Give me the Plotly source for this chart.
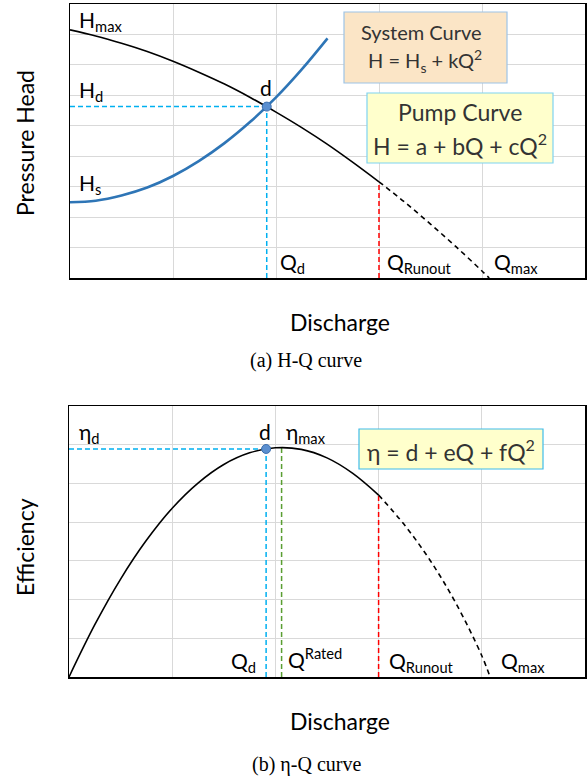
import plotly.graph_objects as go

# ---------------- data ----------------
# (a) H-Q
Q_pump_solid = [0, 0.25, 0.5, 0.75, 1.0, 1.25, 1.5, 1.75, 2.0, 2.25, 2.5, 2.75, 3.0]
H_pump_solid = [8.15, 7.95, 7.71, 7.44, 7.12, 6.76, 6.37, 5.93, 5.45, 4.94, 4.39, 3.79, 3.16]
Q_pump_dash = [3.0, 3.25, 3.5, 3.75, 4.0, 4.07]
H_pump_dash = [3.16, 2.49, 1.77, 1.02, 0.23, 0.0]
Q_sys = [0, 0.25, 0.5, 0.75, 1.0, 1.25, 1.5, 1.75, 2.0, 2.25, 2.5]
H_sys = [2.49, 2.54, 2.71, 2.97, 3.35, 3.84, 4.43, 5.13, 5.93, 6.85, 7.87]

# (b) eta-Q
Q_eta_solid = [0, 0.25, 0.5, 0.75, 1.0, 1.25, 1.5, 1.75, 2.0, 2.25, 2.5, 2.75, 3.0]
E_eta_solid = [0.0, 1.35, 2.53, 3.53, 4.36, 5.01, 5.49, 5.79, 5.92, 5.88, 5.66, 5.26, 4.70]
Q_eta_dash = [3.0, 3.25, 3.5, 3.75, 4.0, 4.08]
E_eta_dash = [4.70, 3.93, 3.01, 1.90, 0.55, 0.0]

# key points
Q_d = 1.91
H_d = 5.63
eta_d = 5.89
Q_rated = 2.06
eta_max = 5.92
Q_runout = 3.0
H_runout = 3.16
eta_runout = 4.70

# axis ranges
Q_range = [0, 5]
H_range = [0, 9]
E_range = [0, 7]

W, H = 587, 778
def px(x):
    return x / W
def py(y):
    return 1 - y / H

LABEL_FONT = "Lato, 'Open Sans', sans-serif"
CYAN = "#00b0f0"
RED = "#ff0000"
GREEN = "#5a9e32"
BLUE = "#2e75b6"
GRID = "#d9d9d9"

fig = go.Figure()

def line(x, y, xa, ya, color, width, dash="solid", shape="linear"):
    fig.add_trace(go.Scatter(x=x, y=y, xaxis=xa, yaxis=ya, mode="lines",
                             line=dict(color=color, width=width, dash=dash, shape=shape),
                             hoverinfo="skip", showlegend=False))

# ---- (a) reference lines
line([0, Q_d], [H_d, H_d], "x", "y", CYAN, 1.5, "5px,3px")
line([Q_d, Q_d], [0, H_d], "x", "y", CYAN, 1.5, "5px,3px")
line([Q_runout, Q_runout], [0, H_runout], "x", "y", RED, 1.5, "5px,3px")
# curves
line(Q_pump_solid, H_pump_solid, "x", "y", "black", 1.6, "solid", "spline")
line(Q_pump_dash, H_pump_dash, "x", "y", "black", 1.6, "5px,4px", "spline")
line(Q_sys, H_sys, "x", "y", BLUE, 2.6, "solid", "spline")
fig.add_trace(go.Scatter(x=[Q_d], y=[H_d], xaxis="x", yaxis="y", mode="markers",
                         marker=dict(size=9, color="#5b8fd0", line=dict(color="#3e6fae", width=1)),
                         hoverinfo="skip", showlegend=False))

# ---- (b) reference lines
line([0, Q_d], [eta_d, eta_d], "x2", "y2", CYAN, 1.5, "5px,3px")
line([Q_d, Q_d], [0, eta_d], "x2", "y2", CYAN, 1.5, "5px,3px")
line([Q_rated, Q_rated], [0, eta_max], "x2", "y2", GREEN, 1.5, "5px,3px")
line([Q_runout, Q_runout], [0, eta_runout], "x2", "y2", RED, 1.5, "5px,3px")
line(Q_eta_solid, E_eta_solid, "x2", "y2", "black", 1.6, "solid", "spline")
line(Q_eta_dash, E_eta_dash, "x2", "y2", "black", 1.6, "5px,4px", "spline")
fig.add_trace(go.Scatter(x=[Q_d], y=[eta_d], xaxis="x2", yaxis="y2", mode="markers",
                         marker=dict(size=9, color="#5b8fd0", line=dict(color="#3e6fae", width=1)),
                         hoverinfo="skip", showlegend=False))

axis_common = dict(showline=True, mirror=True, linecolor="black", linewidth=1.5,
                   showgrid=True, gridcolor=GRID, gridwidth=1, dtick=1, tick0=0,
                   showticklabels=False, ticks="", zeroline=False, fixedrange=True)

fig.update_layout(
    width=W, height=H, autosize=False,
    margin=dict(l=0, r=0, t=0, b=0),
    paper_bgcolor="white", plot_bgcolor="white", showlegend=False,
    xaxis=dict(domain=[px(70), px(585)], range=Q_range, anchor="y", **axis_common),
    yaxis=dict(domain=[py(278), py(4)], range=H_range, anchor="x", **axis_common),
    xaxis2=dict(domain=[px(69), px(585)], range=Q_range, anchor="y2", **axis_common),
    yaxis2=dict(domain=[py(677), py(406)], range=E_range, anchor="x2", **axis_common),
)

ann = []
def label(text, x, y, xref, yref, xanchor="left", yanchor="middle", size=21, color="black", font=LABEL_FONT):
    ann.append(dict(text=text, x=x, y=y, xref=xref, yref=yref, xanchor=xanchor, yanchor=yanchor,
                    showarrow=False, font=dict(family=font, size=size, color=color)))

# (a) labels
label("H<sub>max</sub>", 0.07, 8.45, "x", "y")
label("H<sub>d</sub>", 0.07, 6.15, "x", "y")
label("H<sub>s</sub>", 0.07, 3.1, "x", "y")
label("d", 1.9, 6.25, "x", "y", xanchor="center")
label("Q<sub>d</sub>", 2.02, 0.5, "x", "y")
label("Q<sub>Runout</sub>", 3.06, 0.5, "x", "y")
label("Q<sub>max</sub>", 4.1, 0.5, "x", "y")

# (b) labels
label("η<sub>d</sub>", 0.08, 6.3, "x2", "y2")
label("d", 1.9, 6.35, "x2", "y2", xanchor="center")
label("η<sub>max</sub>", 2.08, 6.3, "x2", "y2")
label("Q<sub>d</sub>", 1.83, 0.4, "x2", "y2", xanchor="right")
label("Q<sup>Rated</sup>", 2.1, 0.5, "x2", "y2")
label("Q<sub>Runout</sub>", 3.08, 0.4, "x2", "y2")
label("Q<sub>max</sub>", 4.17, 0.4, "x2", "y2")

# axis titles
for title, yc in (("Pressure Head", 143), ("Efficiency", 547)):
    ann.append(dict(text=title, x=px(25), y=py(yc), xref="paper", yref="paper",
                    xanchor="center", yanchor="middle", textangle=-90, showarrow=False,
                    font=dict(family=LABEL_FONT, size=23, color="black")))
label("Discharge", px(340), py(322), "paper", "paper", xanchor="center", size=23)
label("Discharge", px(340), py(721), "paper", "paper", xanchor="center", size=23)
label("(a) H-Q curve", px(306), py(360), "paper", "paper", xanchor="center", size=20,
      font="'Liberation Serif', 'Times New Roman', serif")
label("(b) η-Q curve", px(306), py(764), "paper", "paper", xanchor="center", size=20,
      font="'Liberation Serif', 'Times New Roman', serif")

# equation boxes
shapes = [
    dict(type="rect", xref="paper", yref="paper", x0=px(344), x1=px(507), y0=py(83), y1=py(12),
         fillcolor="#fbe5c6", line=dict(color="#9dc3e6", width=1.2), layer="above"),
    dict(type="rect", xref="paper", yref="paper", x0=px(367), x1=px(553), y0=py(163), y1=py(93),
         fillcolor="#ffffcc", line=dict(color="#7fd3f0", width=1.2), layer="above"),
    dict(type="rect", xref="paper", yref="paper", x0=px(359), x1=px(543), y0=py(469), y1=py(429),
         fillcolor="#ffffcc", line=dict(color="#3fbcea", width=1.2), layer="above"),
]
BOXTXT = "#333333"
label("System Curve", px(421), py(32), "paper", "paper", xanchor="center", size=20, color=BOXTXT)
label("H = H<sub>s</sub> + kQ<sup>2</sup>", px(425), py(61), "paper", "paper", xanchor="center", size=20, color=BOXTXT)
label("Pump Curve", px(460), py(112), "paper", "paper", xanchor="center", size=23, color=BOXTXT)
label("H = a + bQ + cQ<sup>2</sup>", px(460), py(144), "paper", "paper", xanchor="center", size=23, color=BOXTXT)
label("η = d + eQ + fQ<sup>2</sup>", px(451), py(450), "paper", "paper", xanchor="center", size=23, color=BOXTXT)

fig.update_layout(annotations=ann, shapes=shapes)
fig.write_html("out.html",
               config={"displayModeBar": False, "staticPlot": True},
               post_script="document.body.style.margin='0';document.body.style.overflow='hidden';")
